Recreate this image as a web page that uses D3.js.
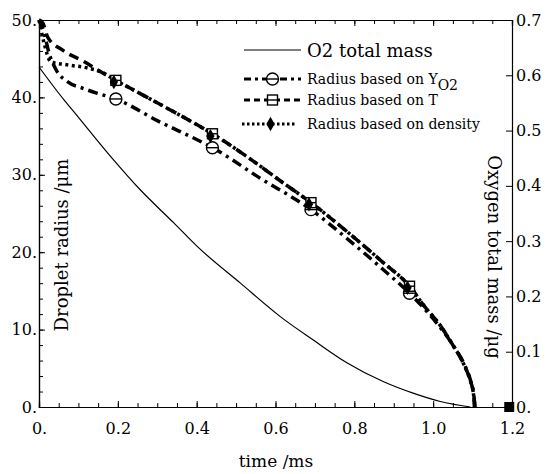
<!DOCTYPE html>
<html>
<head>
<meta charset="utf-8">
<script src="https://cdn.jsdelivr.net/npm/d3@7"></script>
<style>
  body { margin: 0; background: #fff; }
</style>
</head>
<body>
<script>
// values
var timeO2 = [0, 0.064, 0.085, 0.182, 0.258, 0.342, 0.402, 0.511, 0.613, 0.696, 0.781, 0.873, 0.949, 1.018, 1.094];
var massO2 = [0.615, 0.555, 0.537, 0.453, 0.392, 0.333, 0.290, 0.224, 0.163, 0.121, 0.080, 0.046, 0.025, 0.010, 0.0];

var timeY = [0, 0.013, 0.025, 0.043, 0.073, 0.11, 0.15, 0.195, 0.3, 0.41, 0.44, 0.56, 0.69, 0.79, 0.87, 0.94, 1.0, 1.05, 1.08, 1.095, 1.103, 1.106];
var radiusY = [50, 48.3, 45.8, 43.6, 42.0, 41.2, 40.5, 39.8, 37.0, 34.3, 33.5, 29.6, 25.5, 21.4, 17.9, 14.7, 11.4, 8.0, 5.4, 3.4, 1.6, 0];

var timeT = [0, 0.01, 0.022, 0.06, 0.115, 0.15, 0.195, 0.3, 0.41, 0.44, 0.54, 0.61, 0.69, 0.79, 0.87, 0.94, 0.975, 1.02, 1.05, 1.077, 1.093, 1.102, 1.106];
var radiusT = [50, 49.6, 47.8, 46.1, 44.6, 43.5, 42.2, 39.3, 36.2, 35.3, 31.9, 29.3, 26.4, 22.3, 18.8, 15.6, 13.2, 10.4, 8.0, 5.6, 3.6, 1.8, 0];

var timeD = [0, 0.013, 0.03, 0.073, 0.123, 0.157, 0.195, 0.3, 0.41, 0.44, 0.54, 0.61, 0.69, 0.79, 0.87, 0.94, 0.975, 1.02, 1.05, 1.077, 1.093, 1.102, 1.106];
var radiusD = [50, 47.0, 44.6, 44.2, 43.8, 43.3, 42.2, 39.3, 36.2, 35.3, 31.9, 29.3, 26.4, 22.3, 18.8, 15.6, 13.2, 10.4, 8.0, 5.6, 3.6, 1.8, 0];

var markTime = [0.195, 0.44, 0.69, 0.94];
var markY = [39.8, 33.5, 25.5, 14.7];
var markT = [42.2, 35.3, 26.4, 15.6];
var markD = [42.0, 35.0, 26.2, 15.4];

var endTime = [1.193];
var endMass = [0];

var xTicks = [0, 0.2, 0.4, 0.6, 0.8, 1.0, 1.2];
var xLabels = ["0.", "0.2", "0.4", "0.6", "0.8", "1.0", "1.2"];
var yLeftTicks = [0, 10, 20, 30, 40, 50];
var yLeftLabels = ["0.", "10.", "20.", "30.", "40.", "50."];
var yRightTicks = [0, 0.1, 0.2, 0.3, 0.4, 0.5, 0.6, 0.7];
var yRightLabels = ["0.", "0.1", "0.2", "0.3", "0.4", "0.5", "0.6", "0.7"];

var width = 549, height = 474;
var L = 39, R = 512, T = 20, B = 407;
var FONT = "'DejaVu Serif', serif";

var svg = d3.select("body").append("svg").attr("width", width).attr("height", height);

var x = d3.scaleLinear().domain([0, 1.2]).range([L, R]);
var yL = d3.scaleLinear().domain([0, 50]).range([B, T]);
var yR = d3.scaleLinear().domain([0, 0.7]).range([B, T]);

function labeler(ticks, labels) {
  return function(d) { return labels[ticks.indexOf(d)]; };
}

// minor ticks
function minor(axis, scale, step, size) {
  var dom = scale.domain(), v = [];
  for (var i = 0; dom[0] + i * step <= dom[1] + 1e-9; i++) v.push(dom[0] + i * step);
  return axis(scale).tickValues(v).tickSize(size).tickFormat("");
}

svg.append("g").attr("transform", "translate(0," + B + ")").call(minor(d3.axisBottom, x, 0.05, -4));
svg.append("g").attr("transform", "translate(0," + T + ")").call(minor(d3.axisTop, x, 0.05, -4));
svg.append("g").attr("transform", "translate(" + L + ",0)").call(minor(d3.axisLeft, yL, 2, -4));

svg.append("g").attr("class", "xaxis").attr("transform", "translate(0," + B + ")")
  .call(d3.axisBottom(x).tickValues(xTicks).tickSize(-6).tickPadding(16).tickFormat(labeler(xTicks, xLabels)));
svg.append("g").attr("transform", "translate(0," + T + ")")
  .call(d3.axisTop(x).tickValues(xTicks).tickSize(-6).tickFormat(""));
svg.append("g").attr("transform", "translate(" + L + ",0)")
  .call(d3.axisLeft(yL).tickValues(yLeftTicks).tickSize(-6).tickPadding(2).tickFormat(labeler(yLeftTicks, yLeftLabels)));
svg.append("g").attr("transform", "translate(" + R + ",0)")
  .call(d3.axisRight(yR).tickValues(yRightTicks).tickSize(-6).tickPadding(4).tickFormat(labeler(yRightTicks, yRightLabels)));

svg.selectAll(".domain").attr("stroke", "#000").attr("stroke-width", 1.2);
svg.selectAll(".tick line").attr("stroke", "#000").attr("stroke-width", 1);
svg.selectAll(".tick text").attr("font-size", 16).attr("fill", "#000");
svg.selectAll(".xaxis .tick text").attr("dy", "0.71em");

// curves
var lineL = function(tx, ry) {
  return d3.line().curve(d3.curveMonotoneX).x(function(i) { return x(tx[i]); }).y(function(i) { return yL(ry[i]); })(d3.range(tx.length));
};
var lineR = d3.line().curve(d3.curveMonotoneX)
  .x(function(i) { return x(timeO2[i]); }).y(function(i) { return yR(massO2[i]); });

svg.append("path").attr("d", lineR(d3.range(timeO2.length)))
  .attr("fill", "none").attr("stroke", "#000").attr("stroke-width", 1.2);

svg.append("path").attr("d", lineL(timeD, radiusD))
  .attr("fill", "none").attr("stroke", "#000").attr("stroke-width", 3.5).attr("stroke-dasharray", "3,3.5");
svg.append("path").attr("d", lineL(timeY, radiusY))
  .attr("fill", "none").attr("stroke", "#000").attr("stroke-width", 3.5).attr("stroke-dasharray", "10,5,3,5");
svg.append("path").attr("d", lineL(timeT, radiusT))
  .attr("fill", "none").attr("stroke", "#000").attr("stroke-width", 3.5).attr("stroke-dasharray", "10,6");

// markers
function circleMark(g, cx, cy) {
  g.append("circle").attr("cx", cx).attr("cy", cy).attr("r", 6).attr("fill", "#fff").attr("stroke", "#000").attr("stroke-width", 1.4);
  g.append("line").attr("x1", cx - 6).attr("x2", cx + 6).attr("y1", cy).attr("y2", cy).attr("stroke", "#000").attr("stroke-width", 1.4);
}
function squareMark(g, cx, cy) {
  g.append("rect").attr("x", cx - 5).attr("y", cy - 5).attr("width", 10).attr("height", 10).attr("fill", "#fff").attr("stroke", "#000").attr("stroke-width", 1.4);
  g.append("line").attr("x1", cx - 5).attr("x2", cx + 5).attr("y1", cy).attr("y2", cy).attr("stroke", "#000").attr("stroke-width", 1.4);
}
function diamondMark(g, cx, cy) {
  g.append("path").attr("d", d3.symbol(d3.symbolDiamond, 60)()).attr("transform", "translate(" + cx + "," + cy + ")").attr("fill", "#000");
}

var marks = svg.append("g");
markTime.forEach(function(t, i) {
  circleMark(marks, x(t), yL(markY[i]));
  squareMark(marks, x(t), yL(markT[i]));
  diamondMark(marks, x(t) - 2, yL(markD[i]));
});
svg.selectAll(".endmark").data(endTime).enter().append("rect").attr("class", "endmark")
  .attr("x", function(d) { return x(d) - 5; }).attr("y", function(d, i) { return yR(endMass[i]) - 5; })
  .attr("width", 10).attr("height", 10).attr("fill", "#000");

// legend
var lg = svg.append("g");
var lx1 = 244, lx2 = 301, tx = 307;
lg.append("line").attr("x1", lx1).attr("x2", lx2).attr("y1", 50).attr("y2", 50).attr("stroke", "#000").attr("stroke-width", 1.2);
lg.append("text").attr("x", tx).attr("y", 57).attr("font-size", 18).text("O2 total mass");

lg.append("line").attr("x1", lx1).attr("x2", lx2).attr("y1", 79).attr("y2", 79).attr("stroke", "#000").attr("stroke-width", 3).attr("stroke-dasharray", "7,4,3,4");
circleMark(lg, (lx1 + lx2) / 2, 79);
var t2 = lg.append("text").attr("x", tx).attr("y", 84).attr("font-size", 14);
t2.append("tspan").text("Radius based on Y");
t2.append("tspan").attr("dy", 6).text("O2");

lg.append("line").attr("x1", lx1).attr("x2", lx2).attr("y1", 100).attr("y2", 100).attr("stroke", "#000").attr("stroke-width", 3).attr("stroke-dasharray", "6,4");
squareMark(lg, (lx1 + lx2) / 2, 100);
lg.append("text").attr("x", tx).attr("y", 105).attr("font-size", 14).text("Radius based on T");

lg.append("line").attr("x1", lx1 - 2).attr("x2", lx2 - 4).attr("y1", 124).attr("y2", 124).attr("stroke", "#000").attr("stroke-width", 3).attr("stroke-dasharray", "2.5,2.5");
diamondMark(lg, (lx1 + lx2) / 2 - 2, 124);
lg.append("text").attr("x", tx).attr("y", 129).attr("font-size", 14).text("Radius based on density");

// axis titles
svg.append("text").attr("transform", "translate(68,245) rotate(-90)").attr("text-anchor", "middle")
  .attr("font-size", 18).text("Droplet radius /μm");
svg.append("text").attr("transform", "translate(488,257) rotate(90)").attr("text-anchor", "middle")
  .attr("font-size", 18).text("Oxygen total mass /μg");
svg.append("text").attr("x", 276).attr("y", 467).attr("text-anchor", "middle")
  .attr("font-size", 17).text("time /ms");

svg.selectAll("text").style("font-family", FONT).attr("fill", "#000");
</script>
</body>
</html>
